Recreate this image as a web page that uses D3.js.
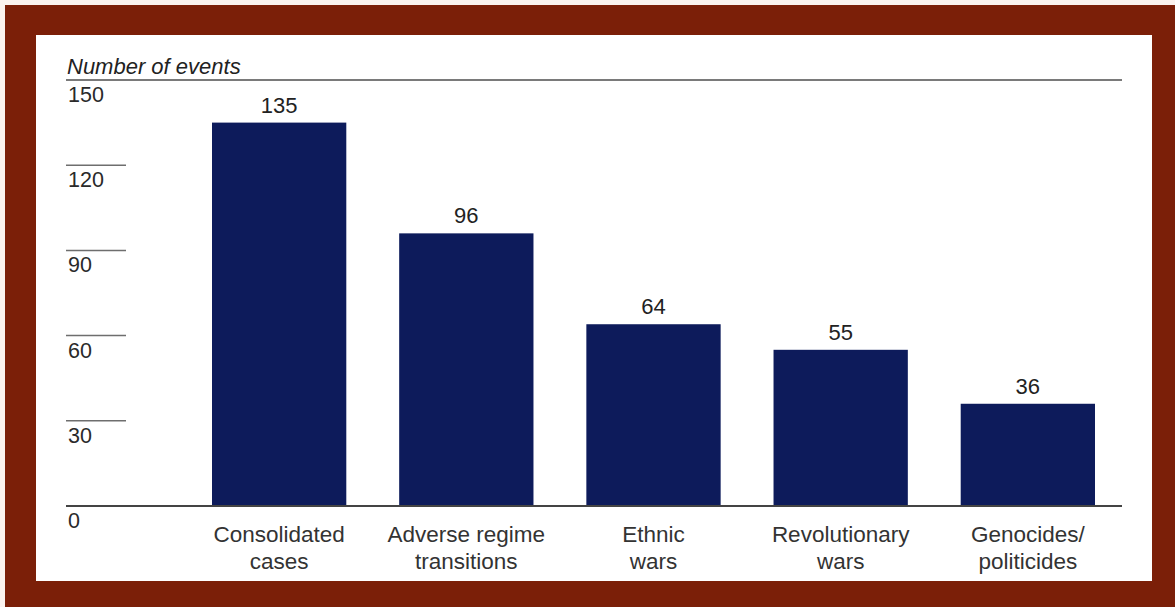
<!DOCTYPE html>
<html>
<head>
<meta charset="utf-8">
<script src="https://cdn.jsdelivr.net/npm/d3@7"></script>
<style>
  html, body { margin: 0; padding: 0; background: #fbf3ef; }
  svg { display: block; }
  text { font-family: "Liberation Sans", Arial, Helvetica, sans-serif; }
</style>
</head>
<body>
<svg id="chart" width="1175" height="607"></svg>
<script>
// Event counts by category
const categories = [
  ["Consolidated", "cases"],
  ["Adverse regime", "transitions"],
  ["Ethnic", "wars"],
  ["Revolutionary", "wars"],
  ["Genocides/", "politicides"]
];
const values = [135, 96, 64, 55, 36];
const tickValues = [0, 30, 60, 90, 120, 150];
const axisTitle = "Number of events";

const svg = d3.select("#chart");

// Frame: dark red border around a white panel
svg.append("rect").attr("x", 5).attr("y", 5).attr("width", 1170).attr("height", 602)
  .attr("fill", "#7b1f08");
svg.append("rect").attr("x", 36).attr("y", 35).attr("width", 1116).attr("height", 546)
  .attr("fill", "#ffffff");

const keys = categories.map(c => c.join(" "));
const x = d3.scaleBand().domain(keys).range([212, 1095]).paddingInner(0.2825).paddingOuter(0);
const y = d3.scaleLinear().domain([0, 150]).range([506, 80]);

const axisLeft = 66, shortTickEnd = 126, axisRight = 1122;

// Short gridline stubs for intermediate ticks
svg.append("g").selectAll("line")
  .data(tickValues.filter(v => v > 0 && v < 150))
  .join("line")
  .attr("x1", axisLeft).attr("x2", shortTickEnd)
  .attr("y1", d => y(d)).attr("y2", d => y(d))
  .attr("stroke", "#6e6e6e").attr("stroke-width", 1.5);

// Top rule at the maximum tick
svg.append("line")
  .attr("x1", axisLeft).attr("x2", axisRight)
  .attr("y1", y(150)).attr("y2", y(150))
  .attr("stroke", "#7a7a7a").attr("stroke-width", 2);

// Tick labels sit just below their lines
svg.append("g").selectAll("text")
  .data(tickValues)
  .join("text")
  .attr("x", axisLeft + 2)
  .attr("y", d => y(d) + 22)
  .attr("font-size", 21.5)
  .attr("fill", "#2a2a2a")
  .text(d => d);

// Axis title
svg.append("text")
  .attr("x", axisLeft + 1).attr("y", 74)
  .attr("font-size", 22).attr("font-style", "italic")
  .attr("fill", "#222")
  .text(axisTitle);

// Bars
svg.append("g").selectAll("rect")
  .data(values)
  .join("rect")
  .attr("x", (d, i) => x(keys[i]))
  .attr("width", x.bandwidth())
  .attr("y", d => y(d))
  .attr("height", d => y(0) - y(d))
  .attr("fill", "#0d1b5b");

// Value labels
svg.append("g").selectAll("text")
  .data(values)
  .join("text")
  .attr("x", (d, i) => x(keys[i]) + x.bandwidth() / 2)
  .attr("y", d => y(d) - 10)
  .attr("text-anchor", "middle")
  .attr("font-size", 22)
  .attr("fill", "#222")
  .text(d => d);

// Baseline
svg.append("line")
  .attr("x1", axisLeft).attr("x2", axisRight)
  .attr("y1", y(0)).attr("y2", y(0))
  .attr("stroke", "#444").attr("stroke-width", 2);

// Category labels, two lines each
const cat = svg.append("g").selectAll("text")
  .data(categories)
  .join("text")
  .attr("text-anchor", "middle")
  .attr("font-size", 22.5)
  .attr("fill", "#333");
cat.each(function (lines, i) {
  const cx = x(keys[i]) + x.bandwidth() / 2;
  d3.select(this).selectAll("tspan")
    .data(lines)
    .join("tspan")
    .attr("x", cx)
    .attr("y", (l, j) => 542 + j * 27)
    .text(l => l);
});
</script>
</body>
</html>
